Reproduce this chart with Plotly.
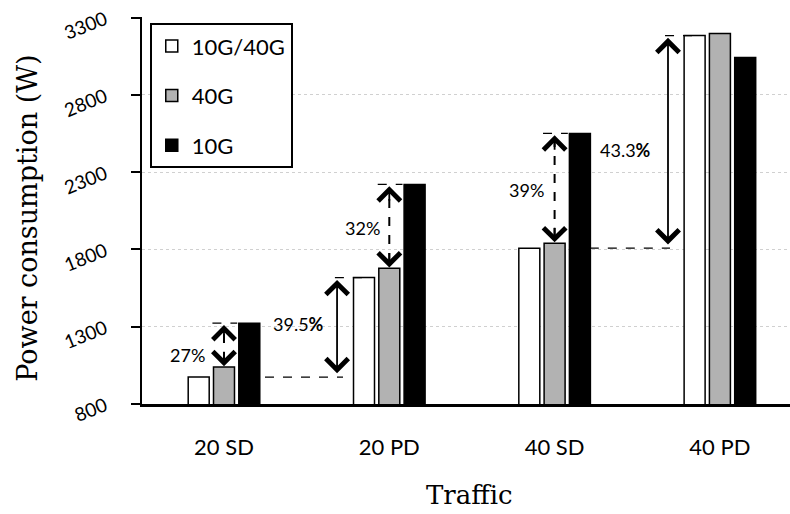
import plotly.graph_objects as go

categories = ["20 SD", "20 PD", "40 SD", "40 PD"]
series_names = ["10G/40G", "40G", "10G"]
vals_10g40g = [974, 1618, 1808, 3184]
vals_40g = [1039, 1678, 1840, 3197]
vals_10g = [1323, 2221, 2551, 3042]
colors = ["#ffffff", "#b2b2b2", "#000000"]
y_ticks = [800, 1300, 1800, 2300, 2800, 3300]

xpos = list(range(len(categories)))

SANS = "Lato, 'Open Sans', sans-serif"
SERIF = "'DejaVu Serif', serif"

fig = go.Figure()
for i, (name, vals) in enumerate(zip(series_names, [vals_10g40g, vals_40g, vals_10g])):
    fig.add_trace(go.Bar(
        x=xpos, y=vals, name=name, legendgroup=name,
        marker=dict(color=colors[i], line=dict(color="black", width=1.5)),
    ))

step = 0.153  # spacing between adjacent bars within a group (x units)

def hline(x0, x1, y):
    fig.add_shape(type="line", xref="x", yref="y", x0=x0, x1=x1, y0=y, y1=y,
                  line=dict(color="black", width=1.3, dash="dash"))

def vdash(x, y0, y1):
    fig.add_shape(type="line", xref="x", yref="y", x0=x, x1=x, y0=y0, y1=y1,
                  line=dict(color="black", width=2, dash="dash"))

def head(x, y, up):
    fig.add_annotation(x=x, y=y, xref="x", yref="y", text="", showarrow=True,
                       ax=0, ay=(16 if up else -16), arrowhead=4, arrowsize=2.4,
                       arrowwidth=1.8, arrowcolor="black", standoff=0)

def label(x, y, t):
    fig.add_annotation(x=x, y=y, xref="x", yref="y", text=t, showarrow=False,
                       font=dict(family=SANS, size=18, color="black"))

# dashed arrows between 40G and 10G bars
for k, (lab, lx, ly) in enumerate([("27%", -0.218, 1117), ("32%", 0.835, 1937), ("39%", 1.827, 2182)]):
    xc = xpos[k]
    top = vals_10g[k]
    bot = vals_40g[k]
    hline(xc - 0.07, xc + 0.08, top)
    vdash(xc, bot + 40, top - 40)
    head(xc, top - 12, True)
    head(xc, bot + 6, False)
    label(lx, ly, lab)

# solid arrows between groups
def solid_arrow(x, y0, y1, x0b, x1b, x0t, x1t):
    hline(x0b, x1b, y0)
    hline(x0t, x1t, y1)
    fig.add_annotation(x=x, y=y1 - 15, ax=x, ay=y0 + 15, xref="x", yref="y",
                       axref="x", ayref="y", text="", showarrow=True,
                       arrowhead=4, startarrowhead=4, arrowside="end+start",
                       arrowsize=2.4, startarrowsize=2.4, arrowwidth=1.8,
                       arrowcolor="black", standoff=0, startstandoff=0)

solid_arrow(0.684, vals_10g40g[0], vals_10g40g[1], 0.248, 0.72, 0.671, 1 - step)
label(0.448, 1317, "39.5<b>%</b>")
solid_arrow(2.686, vals_10g40g[2], vals_10g40g[3], 2 + step + 0.06, 2.698, 2.668, 3 - step)
label(2.426, 2441, "43.3<b>%</b>")

fig.add_annotation(x=0.505, y=-0.235, xref="paper", yref="paper", text="Traffic",
                   xanchor="center", yanchor="middle",
                   showarrow=False, font=dict(family=SERIF, size=26, color="black"))
fig.add_annotation(x=-0.176, y=0.481, xref="paper", yref="paper",
                   text="Power consumption (W)", textangle=-90,
                   xanchor="center", yanchor="middle",
                   showarrow=False, font=dict(family=SERIF, size=27, color="black"))

fig.update_layout(
    width=790, height=514,
    margin=dict(l=142, r=0, t=17, b=110),
    paper_bgcolor="white", plot_bgcolor="white",
    barmode="group", bargap=0.541, bargroupgap=0.17,
    font=dict(family=SANS, color="black"),
    showlegend=True,
    legend=dict(x=0.012, y=0.984, xanchor="left", yanchor="top",
                bgcolor="white", bordercolor="black", borderwidth=2,
                font=dict(family=SANS, size=22, color="black"),
                entrywidth=140, entrywidthmode="pixels",
                tracegroupgap=18, traceorder="grouped"),
    xaxis=dict(range=[-0.496, 3.424], tickvals=xpos, ticktext=categories,
               showline=True, linecolor="black", linewidth=2.5, ticks="",
               showgrid=False, zeroline=False, ticklabelstandoff=22,
               automargin=False,
               tickfont=dict(family=SANS, size=22, color="black")),
    yaxis=dict(range=[800, 3304], tickvals=y_ticks, showline=True,
               linecolor="black", linewidth=2, ticks="outside", ticklen=9,
               tickwidth=1.5, tickcolor="black", showgrid=True,
               gridcolor="#d0d0d0", gridwidth=1, griddash="dot", zeroline=False,
               automargin=False, ticklabelstandoff=22, ticklabeloverflow="allow",
               tickangle=-22, tickfont=dict(family=SANS, size=19, color="black")),
)

# remove the page's default body margin so the 790x514 figure fills the window
fig.write_html("out.html", config={"displayModeBar": False},
               post_script="document.body.style.margin='0';")
